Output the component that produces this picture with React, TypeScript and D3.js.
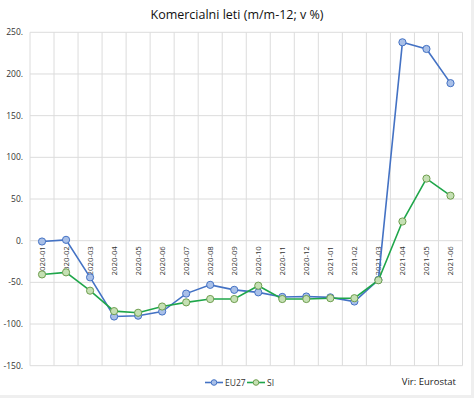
import React from "react";
import * as d3 from "d3";

const categories = [
  "2020-01", "2020-02", "2020-03", "2020-04", "2020-05", "2020-06",
  "2020-07", "2020-08", "2020-09", "2020-10", "2020-11", "2020-12",
  "2021-01", "2021-02", "2021-03", "2021-04", "2021-05", "2021-06",
];
const eu27 = [-1, 1, -44, -91, -90, -85, -63.5, -53, -59, -62, -67.5, -67, -68, -73, -47, 238, 230, 189];
const si = [-40.5, -38, -60, -84.5, -86.5, -79, -74, -70, -70, -54, -70, -70, -69, -69, -47.5, 23, 74.5, 54];
const yTicks = [250, 200, 150, 100, 50, 0, -50, -100, -150];

const W = 474;
const H = 398;
const left = 30;
const right = 462.5;
const top = 32.3;
const bottom = 365.7;

export default function App() {
  const x = d3.scaleBand<string>().domain(categories).range([left, right]).padding(0);
  const y = d3.scaleLinear().domain([-150, 250]).range([bottom, top]);
  const cx = (c: string) => (x(c) as number) + x.bandwidth() / 2;

  const line = d3
    .line<number>()
    .x((_, i) => cx(categories[i]))
    .y((d) => y(d));

  const font = "'Open Sans', 'Noto Sans', sans-serif";
  const series = [
    { name: "EU27", data: eu27, stroke: "#4472C4", fill: "#A9C0E8", mstroke: "#4472C4" },
    { name: "SI", data: si, stroke: "#1FA64A", fill: "#C5E0B4", mstroke: "#6F9E4F" },
  ];

  return (
    <svg
      width={W}
      height={H}
      style={{ position: "absolute", left: 0, top: 0, background: "#fff" }}
      fontFamily={font}
    >
      <rect x={0} y={0} width={W} height={H} fill="#fff" />
      <rect x={471} y={0} width={3} height={H} fill="#efefef" />
      <rect x={0} y={395} width={W} height={3} fill="#efefef" />

      <text x={237} y={19} textAnchor="middle" fontSize={12.5} fill="#111">
        Komercialni leti (m/m-12; v %)
      </text>

      {yTicks.map((t) => (
        <line key={"h" + t} x1={left} x2={right} y1={y(t)} y2={y(t)} stroke="#dcdcdc" strokeWidth={1} />
      ))}
      {categories.map((c) => (
        <line key={"v" + c} x1={x(c) as number} x2={x(c) as number} y1={top} y2={bottom} stroke="#dcdcdc" strokeWidth={1} />
      ))}
      <line x1={right} x2={right} y1={top} y2={bottom} stroke="#dcdcdc" strokeWidth={1} />

      {yTicks.map((t) => (
        <text key={"yl" + t} x={23} y={y(t) + 3} textAnchor="end" fontSize={8.5} fill="#333">
          {t + "."}
        </text>
      ))}

      {categories.map((c) => (
        <text
          key={"xl" + c}
          transform={`translate(${cx(c) + 3},${y(0) + 5.5}) rotate(-90)`}
          textAnchor="end"
          fontSize={7.8}
          fill="#333"
        >
          {c}
        </text>
      ))}

      {series.map((s) => (
        <g key={s.name}>
          <path d={line(s.data) || ""} fill="none" stroke={s.stroke} strokeWidth={1.6} />
          {s.data.map((v, i) => (
            <circle key={i} cx={cx(categories[i])} cy={y(v)} r={3.6} fill={s.fill} stroke={s.mstroke} strokeWidth={1} />
          ))}
        </g>
      ))}

      {series.map((s, i) => {
        const lx = i === 0 ? 205 : 247;
        return (
          <g key={"lg" + s.name}>
            <line x1={lx} x2={lx + 18} y1={382.5} y2={382.5} stroke={s.stroke} strokeWidth={1.6} />
            <circle cx={lx + 9} cy={382.5} r={2.8} fill={s.fill} stroke={s.mstroke} strokeWidth={1} />
            <text x={lx + 20} y={385.5} fontSize={8.5} fill="#333">
              {s.name}
            </text>
          </g>
        );
      })}

      <text x={456} y={385} textAnchor="end" fontSize={9.5} fill="#222">
        Vir: Eurostat
      </text>
    </svg>
  );
}
